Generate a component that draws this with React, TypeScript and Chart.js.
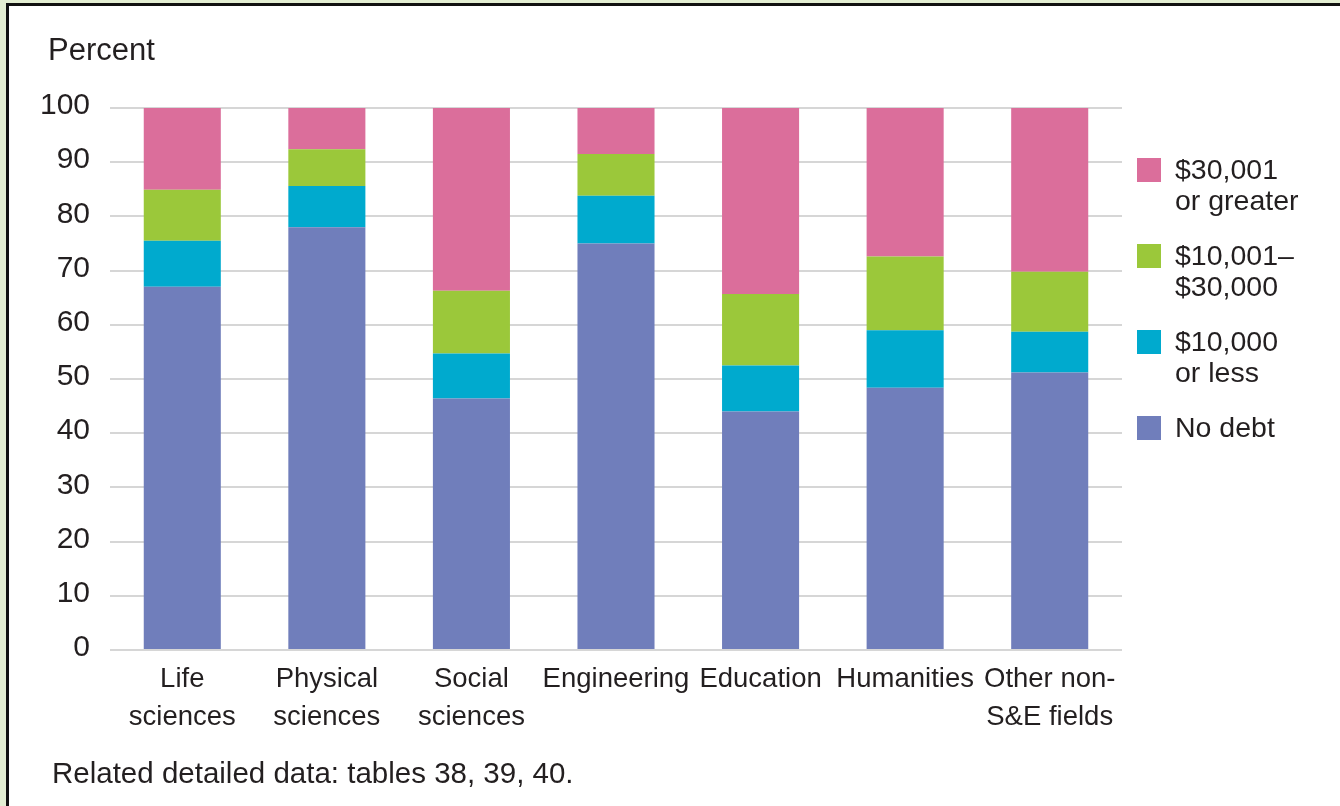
import React, { useEffect, useRef } from "react";
import { Chart, registerables } from "chart.js";

Chart.register(...registerables);

// Broad field of study, split over two lines where the label wraps
const fields: string[][] = [
  ["Life", "sciences"],
  ["Physical", "sciences"],
  ["Social", "sciences"],
  ["Engineering"],
  ["Education"],
  ["Humanities"],
  ["Other non-", "S&E fields"],
];

// Share of graduates (percent) in each debt bracket
const noDebt = [67.0, 78.0, 46.4, 75.0, 44.0, 48.4, 51.2];
const upTo10k = [8.5, 7.6, 8.3, 8.8, 8.5, 10.6, 7.5];
const from10kTo30k = [9.4, 6.8, 11.6, 7.7, 13.2, 13.6, 11.1];
const over30k = [15.1, 7.6, 33.7, 8.5, 34.3, 27.4, 30.2];

const seriesNames: string[][] = [
  ["No debt"],
  ["$10,000", "or less"],
  ["$10,001\u2013", "$30,000"],
  ["$30,001", "or greater"],
];
const seriesColors = ["#707EBB", "#00AACE", "#9BC83A", "#DB6E9B"];
const seriesValues = [noDebt, upTo10k, from10kTo30k, over30k];

const yMin = 0;
const yMax = 100;
const yStep = 10;

const axisTitle = "Percent";
const footnote = "Related detailed data: tables 38, 39, 40.";

const W = 1340;
const H = 806;
const TEXT = "#231f20";
const SANS = "'Liberation Sans', Arial, sans-serif";

export default function App() {
  const canvasRef = useRef<HTMLCanvasElement | null>(null);

  useEffect(() => {
    const canvas = canvasRef.current;
    if (!canvas) return;
    const chart = new Chart(canvas, {
      type: "bar",
      data: {
        labels: fields,
        datasets: seriesValues.map((values, i) => ({
          label: seriesNames[i].join(" "),
          data: values,
          backgroundColor: seriesColors[i],
          borderWidth: 0,
          barPercentage: 0.533,
          categoryPercentage: 1,
        })),
      },
      options: {
        responsive: false,
        animation: false,
        devicePixelRatio: 1,
        layout: { padding: { left: 0, right: W - 1122, top: 108, bottom: 56 } },
        plugins: {
          legend: { display: false },
          tooltip: { enabled: false },
          title: { display: false },
        },
        scales: {
          x: {
            stacked: true,
            grid: { display: false },
            border: { display: false },
            ticks: {
              color: TEXT,
              font: { family: SANS, size: 27.5, lineHeight: 1.37 },
              padding: 3,
              maxRotation: 0,
              minRotation: 0,
              autoSkip: false,
            },
            afterFit: (scale: any) => {
              scale.height = 100;
            },
          },
          y: {
            stacked: true,
            min: yMin,
            max: yMax,
            ticks: {
              stepSize: yStep,
              color: TEXT,
              font: { family: SANS, size: 30 },
              padding: 20,
              labelOffset: -2,
            },
            grid: { color: "#d6d6d6", lineWidth: 2, drawTicks: false },
            border: { display: false },
            afterFit: (scale: any) => {
              scale.width = 110;
            },
          },
        },
      },
    });
    return () => chart.destroy();
  }, []);

  const legendOrder = [3, 2, 1, 0];

  return (
    <div
      style={{
        position: "fixed",
        left: 0,
        top: 0,
        width: W,
        height: H,
        overflow: "hidden",
        background: "#e3eed2",
        fontFamily: SANS,
        color: TEXT,
      }}
    >
      <div
        style={{
          position: "absolute",
          left: 6,
          top: 3,
          width: W,
          height: H - 5,
          background: "#ffffff",
          borderLeft: "3px solid #111",
          borderTop: "3px solid #111",
          borderBottom: "1px solid #d8d8d8",
        }}
      />
      <canvas
        ref={canvasRef}
        width={W}
        height={H}
        style={{ position: "absolute", left: 0, top: 0, width: W, height: H }}
      />
      <div
        style={{
          position: "absolute",
          left: 48,
          top: 34,
          fontSize: 31,
          lineHeight: 1,
          whiteSpace: "nowrap",
        }}
      >
        {axisTitle}
      </div>
      <div
        style={{
          position: "absolute",
          left: 1137,
          top: 153.7,
        }}
      >
        {legendOrder.map((idx) => (
          <div key={idx} style={{ position: "relative", height: 86 }}>
            <div
              style={{
                position: "absolute",
                left: 0,
                top: 4,
                width: 24,
                height: 24,
                background: seriesColors[idx],
              }}
            />
            <div
              style={{
                position: "absolute",
                left: 38,
                top: 0,
                fontSize: 28.5,
                lineHeight: "31.4px",
                whiteSpace: "nowrap",
              }}
            >
              {seriesNames[idx].map((line, j) => (
                <div key={j}>{line}</div>
              ))}
            </div>
          </div>
        ))}
      </div>
      <div
        style={{
          position: "absolute",
          left: 52,
          top: 758,
          fontSize: 29.5,
          lineHeight: 1,
          whiteSpace: "nowrap",
        }}
      >
        {footnote}
      </div>
    </div>
  );
}
